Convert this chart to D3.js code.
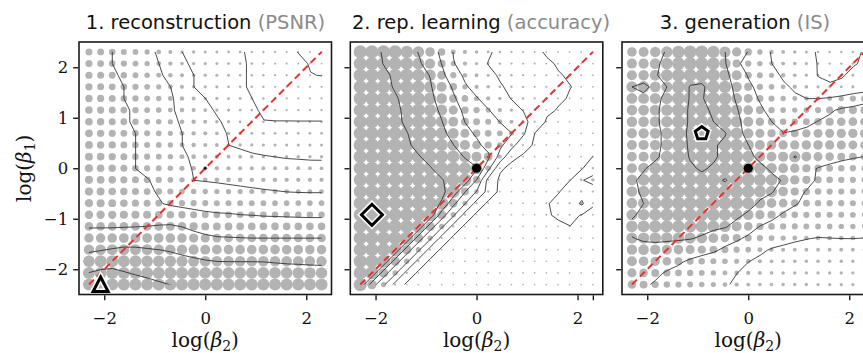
<!DOCTYPE html>
<html>
<head>
<meta charset="utf-8">
<script src="https://cdn.jsdelivr.net/npm/d3@7"></script>
<style>
  html, body { margin: 0; padding: 0; background: #fff; }
  svg { display: block; }
</style>
</head>
<body>
<svg id="chart" width="863" height="353"></svg>
<script>
// log(beta) grid: beta from 0.1 to 10, 21 log-spaced settings on each axis
const logBeta = [-2.303, -2.072, -1.842, -1.612, -1.382, -1.151, -0.921, -0.691, -0.461, -0.230, 0,
                 0.230, 0.461, 0.691, 0.921, 1.151, 1.382, 1.612, 1.842, 2.072, 2.303];

// Each grid lists rows from log(beta1) = 2.3 (top) down to -2.3 (bottom),
// columns from log(beta2) = -2.3 (left) to 2.3 (right).
const psnrGrid = [
  [5.2,5.1,5.0,4.7,4.5,4.2,3.9,3.4,3.0,2.8,2.6,2.4,2.2,2.1,1.8,1.6,1.4,1.2,0.97,0.85,0.7],
  [5.25,5.1,5.0,4.8,4.6,4.3,4.0,3.6,3.1,2.9,2.7,2.5,2.3,2.1,1.9,1.7,1.5,1.3,1.15,0.95,0.8],
  [5.3,5.2,5.1,4.9,4.6,4.4,4.1,3.8,3.4,3.0,2.8,2.6,2.3,2.1,1.9,1.7,1.5,1.4,1.2,1.02,0.98],
  [5.35,5.2,5.1,5.0,4.8,4.5,4.2,4.0,3.5,3.0,2.8,2.6,2.3,2.1,1.9,1.7,1.5,1.35,1.3,1.3,1.3],
  [5.4,5.3,5.2,5.0,4.8,4.6,4.3,4.1,3.7,3.4,3.0,2.8,2.5,2.3,2.0,1.8,1.65,1.55,1.5,1.5,1.5],
  [5.45,5.3,5.2,5.1,4.9,4.6,4.4,4.1,3.8,3.5,3.2,2.9,2.7,2.4,2.1,1.9,1.8,1.8,1.75,1.75,1.75],
  [5.5,5.4,5.2,5.1,4.9,4.7,4.4,4.2,3.9,3.7,3.4,3.1,2.8,2.5,2.2,2.02,2.02,2.02,2.02,2.02,2.02],
  [5.55,5.4,5.3,5.1,5.0,4.7,4.5,4.2,4.0,3.7,3.5,3.2,2.95,2.6,2.4,2.35,2.3,2.3,2.3,2.3,2.3],
  [5.6,5.4,5.3,5.1,5.0,4.7,4.5,4.3,4.0,3.8,3.5,3.3,3.0,2.9,2.8,2.7,2.7,2.6,2.6,2.6,2.6],
  [5.65,5.5,5.3,5.2,5.0,4.8,4.5,4.3,4.1,3.9,3.7,3.5,3.3,3.2,3.1,3.05,3.0,2.95,2.93,2.9,2.9],
  [5.7,5.5,5.4,5.2,5.0,4.8,4.6,4.4,4.2,3.95,3.75,3.65,3.55,3.5,3.43,3.4,3.33,3.3,3.28,3.26,3.25],
  [5.75,5.6,5.5,5.3,5.2,5.05,4.8,4.55,4.3,4.0,3.96,3.92,3.87,3.82,3.77,3.72,3.68,3.65,3.63,3.62,3.62],
  [5.8,5.65,5.5,5.4,5.25,5.1,4.95,4.7,4.45,4.38,4.33,4.28,4.23,4.18,4.13,4.08,4.04,4.0,3.98,3.97,3.97],
  [5.85,5.7,5.6,5.45,5.3,5.2,5.05,4.9,4.82,4.77,4.72,4.67,4.64,4.6,4.57,4.52,4.49,4.46,4.44,4.43,4.43],
  [5.9,5.88,5.83,5.78,5.72,5.65,5.57,5.5,5.36,5.23,5.14,5.09,5.07,5.02,5.0,4.96,4.94,4.92,4.9,4.88,4.88],
  [5.96,5.96,5.96,5.98,6.0,6.02,6.08,6.12,6.0,5.82,5.67,5.59,5.57,5.53,5.51,5.5,5.5,5.49,5.48,5.48,5.47],
  [6.38,6.43,6.49,6.58,6.61,6.57,6.55,6.53,6.43,6.31,6.18,6.08,6.06,6.04,6.02,6.02,6.02,6.02,6.02,6.02,6.02],
  [6.89,6.98,7.08,7.16,7.14,7.08,7.02,6.95,6.85,6.75,6.64,6.55,6.53,6.52,6.51,6.51,6.49,6.47,6.46,6.45,6.44],
  [7.46,7.61,7.68,7.62,7.54,7.46,7.38,7.3,7.21,7.14,7.07,7.02,7.01,7.01,7.01,7.0,6.96,6.92,6.9,6.87,6.85],
  [8.05,8.2,8.25,8.08,7.95,7.85,7.75,7.66,7.6,7.55,7.5,7.47,7.45,7.45,7.45,7.44,7.42,7.4,7.38,7.36,7.35],
  [8.5,8.6,8.6,8.5,8.4,8.25,8.12,8.01,7.9,7.85,7.8,7.78,7.75,7.75,7.75,7.74,7.72,7.7,7.7,7.68,7.68]
];

const accuracyGrid = [
  [6.6,6.25,5.93,5.62,5.3,4.97,4.43,3.79,2.95,2.66,2.37,2.08,1.83,1.6,1.36,1.13,0.93,0.85,0.8,0.75,0.7],
  [6.6,6.3,5.98,5.69,5.41,5.12,4.63,3.97,3.04,2.66,2.3,1.97,1.79,1.61,1.43,1.26,1.08,0.95,0.88,0.8,0.75],
  [6.7,6.45,6.15,5.88,5.58,5.29,4.97,4.23,3.41,2.83,2.5,2.17,1.92,1.74,1.56,1.38,1.21,1.03,0.95,0.88,0.8],
  [6.7,6.5,6.2,5.93,5.64,5.36,5.07,4.53,3.87,3.1,2.71,2.39,2.06,1.86,1.69,1.52,1.35,1.18,1.01,0.92,0.85],
  [6.8,6.55,6.3,6.08,5.77,5.47,5.16,4.71,4.11,3.57,3.05,2.67,2.3,1.96,1.74,1.52,1.3,1.09,0.95,0.88,0.82],
  [6.8,6.6,6.35,6.15,5.84,5.54,5.24,4.88,4.32,3.83,3.43,3.03,2.68,2.32,1.96,1.55,1.13,0.95,0.88,0.82,0.78],
  [6.85,6.65,6.4,6.2,5.86,5.58,5.3,5.02,4.51,3.98,3.65,3.32,2.98,2.63,2.28,1.55,0.9,0.85,0.8,0.78,0.75],
  [6.9,6.7,6.45,6.25,6.03,5.69,5.42,5.15,4.78,4.28,3.87,3.59,3.3,3.01,2.12,0.95,0.85,0.8,0.78,0.76,0.74],
  [6.9,6.75,6.5,6.3,6.1,5.82,5.55,5.28,5.01,4.6,4.18,3.71,3.2,2.3,1.26,0.9,0.82,0.78,0.76,0.75,0.74],
  [6.95,6.8,6.6,6.4,6.2,6.05,5.79,5.52,5.25,4.96,4.56,4.16,2.6,1.15,0.9,0.82,0.78,0.76,0.75,0.75,1.03],
  [7.0,6.85,6.7,6.5,6.35,6.2,6.05,5.73,5.5,5.28,5.05,3.2,1.1,0.8,0.8,0.78,0.76,0.76,0.8,0.95,1.6],
  [7.0,6.95,6.9,6.85,6.75,6.6,6.35,6.05,5.7,5.5,3.9,1.6,0.85,0.8,0.8,0.8,0.8,0.85,1.0,1.95,2.3],
  [7.0,7.0,6.95,6.9,6.85,6.75,6.6,6.2,5.5,4.0,2.9,1.6,0.78,0.8,0.8,0.8,0.8,0.97,1.3,1.6,1.53],
  [7.0,7.0,7.0,6.95,6.9,6.8,6.4,5.9,4.2,3.0,1.6,0.78,0.8,0.8,0.78,0.78,0.95,1.2,1.5,2.15,1.05],
  [7.0,7.0,7.0,6.95,6.9,6.85,6.6,4.4,3.1,1.6,0.78,0.78,0.78,0.78,0.77,0.77,0.9,1.15,1.2,0.95,0.85],
  [7.0,7.0,7.0,6.95,6.85,6.6,4.4,3.1,1.6,0.78,0.77,0.77,0.77,0.76,0.76,0.76,0.76,0.8,0.98,0.8,0.78],
  [7.0,7.0,6.95,6.85,6.6,4.4,3.1,1.6,0.78,0.77,0.77,0.76,0.76,0.76,0.76,0.75,0.75,0.75,0.76,0.76,0.75],
  [7.0,6.95,6.85,6.6,4.4,3.1,1.6,0.78,0.77,0.77,0.76,0.76,0.76,0.75,0.75,0.75,0.75,0.75,0.75,0.75,0.75],
  [6.95,6.85,6.6,4.4,3.1,1.6,0.78,0.77,0.77,0.76,0.76,0.76,0.75,0.75,0.75,0.75,0.75,0.75,0.75,0.75,0.75],
  [6.85,6.6,4.4,3.1,1.6,0.78,0.77,0.77,0.76,0.76,0.76,0.75,0.75,0.75,0.75,0.75,0.75,0.75,0.75,0.75,0.75],
  [6.6,4.4,3.1,1.6,0.78,0.77,0.77,0.76,0.76,0.76,0.75,0.75,0.75,0.75,0.75,0.75,0.75,0.75,0.75,0.75,0.75]
];

const isGrid = [
  [4.9,5.0,5.1,5.35,5.7,5.9,5.9,5.6,5.3,4.8,4.25,3.6,3.25,3.0,2.75,2.45,2.1,2.0,2.0,2.1,2.25],
  [5.0,5.05,5.2,5.45,5.75,5.95,6.0,5.7,5.35,4.45,3.95,3.6,3.3,3.05,2.8,2.5,2.15,2.0,1.95,2.15,2.3],
  [5.0,5.1,5.25,5.5,5.8,6.0,6.05,5.75,5.45,5.0,4.2,3.85,3.5,3.2,2.9,2.6,2.15,2.05,2.15,2.35,2.5],
  [5.3,5.4,5.2,5.3,5.8,6.35,6.4,6.0,5.6,5.1,4.5,4.0,3.7,3.4,3.2,2.9,2.5,2.3,2.35,2.5,2.65],
  [5.2,5.2,5.25,5.35,5.9,6.35,6.35,6.0,5.7,5.2,4.7,4.2,3.9,3.6,3.4,3.3,3.3,3.4,3.6,3.9,4.15],
  [5.15,5.2,5.25,5.4,5.95,6.4,6.45,6.2,5.8,5.35,4.9,4.45,4.0,3.75,3.6,3.7,3.9,4.2,4.45,4.5,4.5],
  [5.1,5.15,5.25,5.4,5.95,6.4,6.5,6.3,5.9,5.45,5.0,4.6,4.3,4.05,4.0,4.1,4.35,4.5,4.6,4.65,4.65],
  [5.05,5.1,5.2,5.4,6.0,6.45,6.6,6.45,6.35,5.5,5.1,4.75,4.5,4.32,4.4,4.55,4.7,4.75,4.8,4.8,4.8],
  [5.0,5.05,5.15,5.45,6.0,6.4,6.55,6.4,6.1,5.7,5.3,5.0,4.85,4.8,4.8,4.85,4.85,4.8,4.75,4.7,4.65],
  [4.95,5.0,5.2,5.5,6.0,6.35,6.5,6.4,6.1,5.75,5.45,5.15,4.95,5.0,5.35,4.95,4.75,4.6,4.45,4.35,4.28],
  [5.0,5.25,5.5,5.7,5.95,6.2,6.38,6.2,6.0,5.8,5.6,5.45,5.2,4.95,4.8,4.5,4.25,4.1,4.0,3.95,3.95],
  [5.2,5.45,5.7,5.85,5.95,6.05,6.1,6.15,6.35,6.0,5.8,5.6,5.45,5.25,4.85,4.5,4.2,4.05,3.95,3.9,3.9],
  [5.15,5.4,5.65,5.8,5.9,6.0,6.05,6.05,6.0,5.9,5.7,5.5,5.35,4.9,4.5,4.25,4.05,3.95,3.9,3.85,3.85],
  [5.15,5.3,5.55,5.7,5.8,5.85,5.9,5.9,5.85,5.75,5.55,5.2,4.9,4.6,4.35,4.15,4.0,3.95,3.9,3.85,3.85],
  [5.25,5.4,5.6,5.7,5.75,5.8,5.75,5.7,5.6,5.45,5.15,4.8,4.5,4.2,4.05,3.95,3.9,3.85,3.8,3.75,3.75],
  [5.4,5.5,5.6,5.65,5.65,5.6,5.55,5.45,5.35,5.0,4.6,4.25,4.05,3.95,3.85,3.8,3.75,3.7,3.65,3.6,3.6],
  [5.28,5.35,5.4,5.4,5.38,5.33,5.2,4.95,4.6,4.4,4.15,3.95,3.75,3.55,3.4,3.32,3.25,3.28,3.3,3.3,3.28],
  [5.1,5.15,5.1,5.0,4.9,4.75,4.55,4.4,4.15,3.95,3.7,3.45,3.2,3.1,3.05,3.0,2.95,3.0,3.05,3.0,3.0],
  [4.95,4.9,4.8,4.6,4.4,4.15,4.0,3.85,3.7,3.5,3.3,3.1,2.95,2.9,2.85,2.8,2.8,2.75,2.75,2.7,2.7],
  [4.75,4.6,4.45,4.2,4.05,3.95,3.8,3.6,3.45,3.3,3.1,2.95,2.85,2.8,2.75,2.7,2.7,2.65,2.65,2.6,2.6],
  [4.6,4.4,4.2,4.0,3.9,3.8,3.65,3.5,3.35,3.2,3.0,2.9,2.8,2.75,2.7,2.7,2.65,2.6,2.6,2.55,2.55]
];

// Contour levels drawn on each panel
const psnrLevels = [1, 2, 3, 4, 5, 6, 7, 8];
const accuracyLevels = [1, 2, 3, 4, 5, 6];
const isLevels = [2.2, 3.3, 4.3, 5.3, 6.3];

// Axis ticks
const yTicks = [-2, -1, 0, 1, 2];
const xTicks = [-2, 0, 2];

// Titles and best-setting markers (log beta2, log beta1)
const titles = [["1. reconstruction", "(PSNR)"], ["2. rep. learning", "(accuracy)"], ["3. generation", "(IS)"]];
const bestPoints = [[-2.072, -2.303], [-2.072, -0.921], [-0.921, 0.691]];
const markerShapes = ["triangle", "diamond", "pentagon"];

const panels = [
  { grid: psnrGrid, levels: psnrLevels, left: 79, titleX: 205.5,
    rDomain: [0.7, 1, 2, 3, 4, 5, 6, 7, 7.6], rRange: [0.9, 1.0, 1.3, 1.7, 2.4, 3.3, 4.3, 5.3, 6.0], originR: 1.3 },
  { grid: accuracyGrid, levels: accuracyLevels, left: 350.3, titleX: 481,
    rDomain: [0.75, 1, 2, 3, 4, 5, 5.6], rRange: [0.85, 0.95, 1.3, 2.5, 4.0, 5.8, 6.6], originR: 4.6, extraTick: 2.303 },
  { grid: isGrid, levels: isLevels, left: 622, titleX: 745,
    rDomain: [2, 3, 4, 5, 5.8], rRange: [1.2, 1.9, 3.2, 5.0, 6.5], originR: 4.6 }
];

const svg = d3.select("#chart");
const plotTop = 42, plotBottom = 294.5, plotWidth = 252.5;
const serif = "'DejaVu Serif', 'Liberation Serif', serif";
const sans = "'DejaVu Sans', 'Noto Sans', sans-serif";
const n = logBeta.length;
const step = logBeta[1] - logBeta[0];

function markerPath(shape) {
  if (shape === "triangle") return "M0,-7.5L7.5,7L-7.5,7Z";
  if (shape === "diamond") return "M0,-10.5L10.5,0L0,10.5L-10.5,0Z";
  const pts = d3.range(5).map(k => {
    const a = -Math.PI / 2 + k * 2 * Math.PI / 5;
    return [6.8 * Math.cos(a), 6.8 * Math.sin(a)];
  });
  return "M" + pts.map(p => p.join(",")).join("L") + "Z";
}

panels.forEach((p, k) => {
  const x = d3.scaleLinear().domain([-2.5, 2.5]).range([p.left, p.left + plotWidth]);
  const y = d3.scaleLinear().domain([-2.5, 2.5]).range([plotBottom, plotTop]);
  const g = svg.append("g");

  // clip region: the span of the sampled grid
  const clipId = "grid-clip-" + k;
  svg.append("clipPath").attr("id", clipId).append("rect")
    .attr("x", x(logBeta[0])).attr("y", y(logBeta[n - 1]))
    .attr("width", x(logBeta[n - 1]) - x(logBeta[0]))
    .attr("height", y(logBeta[0]) - y(logBeta[n - 1]));

  // dots sized by the metric
  const cells = [];
  p.grid.forEach((row, r) => row.forEach((v, c) => cells.push({ b2: logBeta[c], b1: logBeta[n - 1 - r], v })));
  const rScale = d3.scaleLinear().domain(p.rDomain).range(p.rRange).clamp(true);
  g.append("g").selectAll("circle").data(cells).join("circle")
    .attr("cx", d => x(d.b2)).attr("cy", d => y(d.b1)).attr("r", d => rScale(d.v))
    .attr("fill", "#b3b3b3");

  // iso-lines of the same metric
  const contours = d3.contours().size([n, n]).thresholds(p.levels)(p.grid.flat());
  const toScreen = d3.geoTransform({
    point(gx, gy) {
      this.stream.point(x(logBeta[0] + (gx - 0.5) * step), y(logBeta[n - 1] - (gy - 0.5) * step));
    }
  });
  const path = d3.geoPath(toScreen);
  g.append("g").attr("clip-path", `url(#${clipId})`)
    .selectAll("path").data(contours).join("path")
    .attr("d", path).attr("fill", "none").attr("stroke", "#2a2a2a").attr("stroke-width", 0.85);

  // beta1 = beta2 diagonal
  g.append("line")
    .attr("x1", x(logBeta[0])).attr("y1", y(logBeta[0]))
    .attr("x2", x(logBeta[n - 1])).attr("y2", y(logBeta[n - 1]))
    .attr("stroke", "#e8302c").attr("stroke-width", 2).attr("stroke-dasharray", "7,4.2");

  // default setting beta1 = beta2 = 1
  g.append("circle").attr("cx", x(0)).attr("cy", y(0)).attr("r", p.originR).attr("fill", "#000");

  // best setting
  const [bx, by] = bestPoints[k];
  const mp = markerPath(markerShapes[k]);
  const mg = g.append("g").attr("transform", `translate(${x(bx)},${y(by)})`);
  mg.append("path").attr("d", mp).attr("fill", "none").attr("stroke", "#fff").attr("stroke-width", 6).attr("stroke-linejoin", "miter");
  mg.append("path").attr("d", mp).attr("fill", "none").attr("stroke", "#000").attr("stroke-width", 3).attr("stroke-linejoin", "miter");

  // frame
  g.append("rect").attr("x", p.left).attr("y", plotTop).attr("width", plotWidth).attr("height", plotBottom - plotTop)
    .attr("fill", "none").attr("stroke", "#1a1a1a").attr("stroke-width", 1.6);

  // axes
  const yAxis = d3.axisLeft(y).tickValues(yTicks).tickSize(5).tickPadding(5)
    .tickFormat(k === 0 ? d3.format("d") : () => "");
  const ya = g.append("g").attr("transform", `translate(${p.left - 0.8},0)`).call(yAxis);
  const xVals = p.extraTick ? xTicks.concat([p.extraTick]) : xTicks;
  const xAxis = d3.axisBottom(x).tickValues(xVals).tickSize(5).tickPadding(12)
    .tickFormat(d => xTicks.includes(d) ? d3.format("d")(d) : "");
  const xa = g.append("g").attr("transform", `translate(0,${plotBottom + 0.8})`).call(xAxis);
  [ya, xa].forEach(a => {
    a.select(".domain").remove();
    a.selectAll(".tick line").attr("stroke", "#1a1a1a").attr("stroke-width", 1.4);
    a.selectAll(".tick text").attr("font-family", serif).attr("font-size", 16.5).attr("fill", "#111");
  });

  // x axis title
  const xt = g.append("text").attr("x", x(0)).attr("y", 347).attr("text-anchor", "middle")
    .attr("font-family", serif).attr("font-size", 20).attr("fill", "#111");
  xt.append("tspan").text("log(");
  xt.append("tspan").attr("font-style", "italic").text("β");
  xt.append("tspan").attr("font-size", 14).attr("dy", 3.5).text("2");
  xt.append("tspan").attr("dy", -3.5).text(")");

  // panel title
  const tt = g.append("text").attr("x", p.titleX).attr("y", 28.5).attr("text-anchor", "middle")
    .attr("font-family", sans).attr("font-size", 19.5).attr("fill", "#111");
  tt.append("tspan").text(titles[k][0] + " ");
  tt.append("tspan").attr("fill", "#8a8a8a").text(titles[k][1]);
});

// y axis title
const yt = svg.append("text").attr("transform", "translate(31,168.3) rotate(-90)")
  .attr("text-anchor", "middle").attr("font-family", serif).attr("font-size", 20).attr("fill", "#111");
yt.append("tspan").text("log(");
yt.append("tspan").attr("font-style", "italic").text("β");
yt.append("tspan").attr("font-size", 14).attr("dy", 3.5).text("1");
yt.append("tspan").attr("dy", -3.5).text(")");
</script>
</body>
</html>
